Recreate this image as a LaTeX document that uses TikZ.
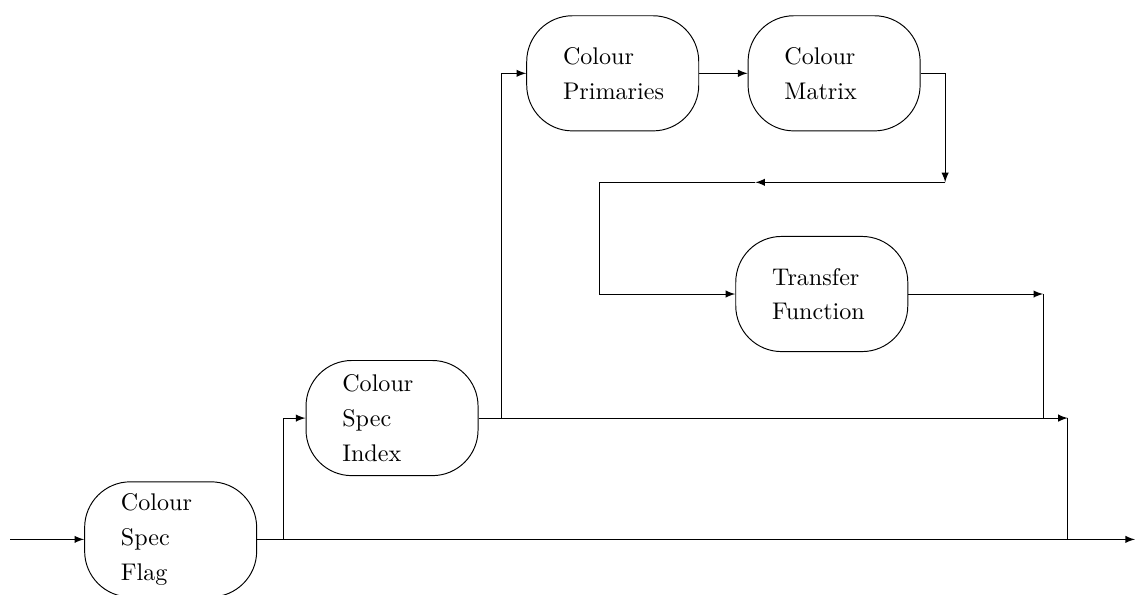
\documentclass[tikz,border=0pt]{standalone}
\usepackage{tikz}
\tikzset{
    every path/.style={thin},
    >=latex,
    blk/.style={draw, rectangle, rounded corners=19pt, minimum width=2.51cm,
        minimum height=1.68cm, text width=1.45cm, align=left,
        font=\linespread{1.2}\selectfont},
    flow/.style={->},
    rail/.style={-}
}

\begin{document}
\begin{tikzpicture}
\useasboundingbox (0,0) rectangle (16.56,8.67);

\node[blk] at (2.49,0.80) (flag) {Colour\\Spec\\Flag};
\node[blk] at (5.72,2.57) (index) {Colour\\Spec\\Index};
\node[blk] at (8.94,7.60) (prim) {Colour\\Primaries};
\node[blk] at (12.17,7.60) (matrix) {Colour\\Matrix};
\node[blk] at (11.99,4.38) (transfer) {Transfer\\Function};

\coordinate (in) at (0.15,0.80);
\coordinate (out) at (16.56,0.80);
\coordinate (s1) at (4.13,0.80);
\coordinate (s2) at (7.32,2.57);
\coordinate (m1) at (13.79,6.01);
\coordinate (m2) at (11.02,6.01);
\coordinate (m3) at (8.75,6.01);
\coordinate (t1) at (15.22,4.38);
\coordinate (t2) at (15.22,2.57);
\coordinate (e1) at (15.58,2.57);
\coordinate (e2) at (15.58,0.80);

\draw[flow] (in) -- (flag);
\draw[flow] (flag) -- (out);
\draw[flow] (s1) |- (index);
\draw[flow] (index) -- (e1);
\draw[rail] (e1) -- (e2);
\draw[flow] (s2) |- (prim);
\draw[flow] (prim) -- (matrix);
\draw[flow] (matrix) -| (m1);
\draw[flow] (m1) -- (m2);
\draw[rail] (m2) -- (m3);
\draw[flow] (m3) |- (transfer);
\draw[flow] (transfer) -- (t1);
\draw[rail] (t1) -- (t2);
\end{tikzpicture}
\end{document}
